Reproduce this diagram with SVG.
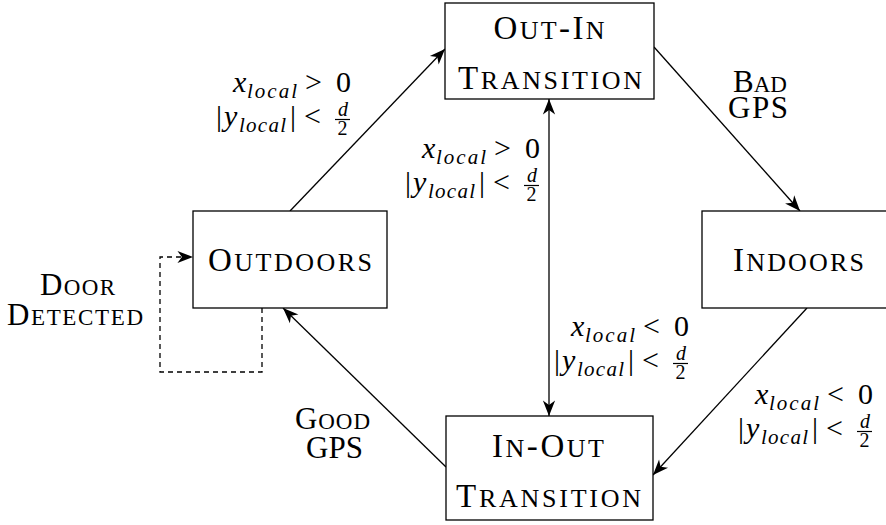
<svg xmlns="http://www.w3.org/2000/svg" width="886" height="525" viewBox="0 0 886 525">
<defs>
<marker id="arr" markerUnits="userSpaceOnUse" markerWidth="20" markerHeight="20" viewBox="-16 -8 18 16" refX="0" refY="0" orient="auto-start-reverse">
<path d="M0,0 L-14,-5.5 L-10,0 L-14,5.5 Z" fill="#000"/>
</marker>
</defs>
<style>
.box{fill:#fff;stroke:#000;stroke-width:1.3}
.t{font-family:"Liberation Serif","DejaVu Serif",serif;font-size:33px;fill:#000;text-anchor:middle}
.s{font-size:26px}
.l{font-size:31px}
.ls{font-size:23px}
.mg{font-family:"Liberation Serif",serif;font-size:30px;fill:#000}
.i{font-style:italic}
.sub{font-size:21px;font-style:italic}
.fr{font-size:20px;text-anchor:middle}
.c{fill:none;stroke:#000;stroke-width:1.3}
.d{stroke-dasharray:5 4}
</style>
<g id="connectors">
<path class="c" d="M290,211 L445,49" marker-end="url(#arr)"/>
<path class="c" d="M654,47 L800,211" marker-end="url(#arr)"/>
<path class="c" d="M807,308 L653,475" marker-end="url(#arr)"/>
<path class="c" d="M446,467 L283,308" marker-end="url(#arr)"/>
<path class="c" d="M549,99 L549,416" marker-start="url(#arr)" marker-end="url(#arr)"/>
<path class="c d" d="M262,308 V372 H160 V257 H193" marker-end="url(#arr)"/>
</g>
<g id="outin">
<rect class="box" x="445" y="3" width="209" height="96"/>
<text class="t" x="549" y="39" textLength="111" lengthAdjust="spacing">O<tspan class="s">UT</tspan>-I<tspan class="s">N</tspan></text>
<text class="t" x="550" y="89" textLength="184" lengthAdjust="spacing">T<tspan class="s">RANSITION</tspan></text>
</g>
<g id="outdoors">
<rect class="box" x="193" y="211" width="194" height="97"/>
<text class="t" x="290" y="271" textLength="164" lengthAdjust="spacing">O<tspan class="s">UTDOORS</tspan></text>
</g>
<g id="indoors">
<rect class="box" x="702" y="211" width="194" height="97"/>
<text class="t" x="798.5" y="271" textLength="131" lengthAdjust="spacing">I<tspan class="s">NDOORS</tspan></text>
</g>
<g id="inout">
<rect class="box" x="446" y="416" width="207" height="104"/>
<text class="t" x="548" y="457" textLength="112" lengthAdjust="spacing">I<tspan class="s">N</tspan>-O<tspan class="s">UT</tspan></text>
<text class="t" x="548.5" y="507" textLength="185" lengthAdjust="spacing">T<tspan class="s">RANSITION</tspan></text>
</g>
<g id="label-badgps">
<text class="t l" x="760" y="92">B<tspan class="ls">AD</tspan></text>
<text class="t l" x="758" y="118" textLength="60" lengthAdjust="spacing">GPS</text>
</g>
<g id="label-door">
<text class="t l" x="77.5" y="295" textLength="75" lengthAdjust="spacing">D<tspan class="ls">OOR</tspan></text>
<text class="t l" x="75" y="325" textLength="136" lengthAdjust="spacing">D<tspan class="ls">ETECTED</tspan></text>
</g>
<g id="label-goodgps">
<text class="t l" x="332.5" y="429" textLength="75" lengthAdjust="spacing">G<tspan class="ls">OOD</tspan></text>
<text class="t l" x="334.5" y="458">GPS</text>
</g>
<g id="label-xgt-1" class="mg" transform="translate(351,92)">
<text class="i" x="-118" y="0">x</text>
<text class="sub" x="-104" y="6" textLength="50" lengthAdjust="spacing">local</text>
<text x="-46" y="0">&gt;</text>
<text x="-15" y="0">0</text>
<text x="-135" y="34">|</text>
<text class="i" x="-127" y="34">y</text>
<text class="sub" x="-112" y="40" textLength="47" lengthAdjust="spacing">local</text>
<text x="-61" y="34">|</text>
<text x="-47" y="34">&lt;</text>
<text class="i fr" x="-8" y="24">d</text>
<line x1="-16" y1="27.5" x2="-1" y2="27.5" stroke="#000" stroke-width="1.2"/>
<text class="fr" x="-8.5" y="43">2</text>
</g>
<g id="label-xgt-2" class="mg" transform="translate(540,158)">
<text class="i" x="-118" y="0">x</text>
<text class="sub" x="-104" y="6" textLength="50" lengthAdjust="spacing">local</text>
<text x="-46" y="0">&gt;</text>
<text x="-15" y="0">0</text>
<text x="-135" y="34">|</text>
<text class="i" x="-127" y="34">y</text>
<text class="sub" x="-112" y="40" textLength="47" lengthAdjust="spacing">local</text>
<text x="-61" y="34">|</text>
<text x="-47" y="34">&lt;</text>
<text class="i fr" x="-8" y="24">d</text>
<line x1="-16" y1="27.5" x2="-1" y2="27.5" stroke="#000" stroke-width="1.2"/>
<text class="fr" x="-8.5" y="43">2</text>
</g>
<g id="label-xlt-1" class="mg" transform="translate(689,336)">
<text class="i" x="-118" y="0">x</text>
<text class="sub" x="-104" y="6" textLength="50" lengthAdjust="spacing">local</text>
<text x="-46" y="0">&lt;</text>
<text x="-15" y="0">0</text>
<text x="-135" y="34">|</text>
<text class="i" x="-127" y="34">y</text>
<text class="sub" x="-112" y="40" textLength="47" lengthAdjust="spacing">local</text>
<text x="-61" y="34">|</text>
<text x="-47" y="34">&lt;</text>
<text class="i fr" x="-8" y="24">d</text>
<line x1="-16" y1="27.5" x2="-1" y2="27.5" stroke="#000" stroke-width="1.2"/>
<text class="fr" x="-8.5" y="43">2</text>
</g>
<g id="label-xlt-2" class="mg" transform="translate(873,404)">
<text class="i" x="-118" y="0">x</text>
<text class="sub" x="-104" y="6" textLength="50" lengthAdjust="spacing">local</text>
<text x="-46" y="0">&lt;</text>
<text x="-15" y="0">0</text>
<text x="-135" y="34">|</text>
<text class="i" x="-127" y="34">y</text>
<text class="sub" x="-112" y="40" textLength="47" lengthAdjust="spacing">local</text>
<text x="-61" y="34">|</text>
<text x="-47" y="34">&lt;</text>
<text class="i fr" x="-8" y="24">d</text>
<line x1="-16" y1="27.5" x2="-1" y2="27.5" stroke="#000" stroke-width="1.2"/>
<text class="fr" x="-8.5" y="43">2</text>
</g>
</svg>
